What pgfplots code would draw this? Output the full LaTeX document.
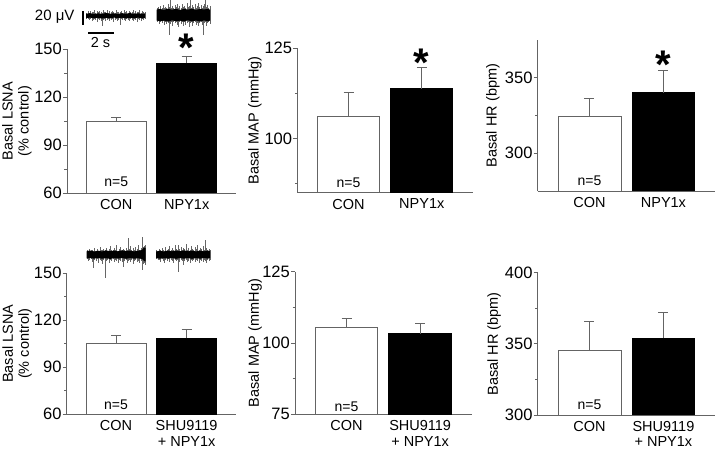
\documentclass[border=0pt]{standalone}
\usepackage{fontspec}
\setmainfont{Liberation Sans}
\usepackage{pgfplots}
\pgfplotsset{compat=1.18}
\definecolor{axgray}{RGB}{100,100,100}
\pgfplotsset{
  /pgf/number format/assume math mode=true,
  panel/.style={
    scale only axis, anchor=south west,
    axis x line=bottom, axis y line=left,
    axis line style={-, draw=axgray, line width=0.8pt},
    xmin=-0.7, xmax=1.7, xtick={0,1},
    xtick style={draw=none},
    ytick style={draw=axgray, line width=0.8pt},
    tick align=outside,
    major tick length=4pt, minor tick length=2.5pt,
    ybar, bar width=0.85, bar shift=0pt,
    clip mode=individual,
    tick label style={font=\fontsize{16.5}{16.5}\selectfont, text=black},
    yticklabel style={inner sep=1pt},
    xticklabel style={align=center, inner sep=2pt, font=\fontsize{14.5}{15.5}\selectfont},
    ylabel style={font=\fontsize{14.5}{16}\selectfont, align=center, anchor=center},
    scaled y ticks=false,
  },
  conbar/.style={fill=white, draw=axgray, line width=0.8pt,
    error bars/.cd, y dir=plus, y explicit, error mark=|,
    error bar style={draw=axgray, line width=0.8pt},
    error mark options={draw=axgray, line width=0.8pt, mark size=5pt}},
  drugbar/.style={fill=black, draw=black, line width=0.8pt,
    error bars/.cd, y dir=plus, y explicit, error mark=|,
    error bar style={draw=axgray, line width=0.8pt},
    error mark options={draw=axgray, line width=0.8pt, mark size=5pt}},
  spikes/.style={draw=none, mark=none, forget plot,
    error bars/.cd, y dir=both, y explicit, error mark=none,
    error bar style={draw=black!60, line width=0.4pt}},
}
\tikzset{
  nlab/.style={font=\fontsize{14}{14}\selectfont, inner sep=0pt},
  star/.style={font=\fontsize{40}{40}\selectfont\bfseries, anchor=base, yshift=-19.5pt, inner sep=0pt},
}
\begin{document}
\begin{tikzpicture}
\useasboundingbox (0,0) rectangle (716pt,450pt);

% ---------- traces and scale bars ----------
\begin{axis}[at={(0pt,0pt)}, anchor=south west, scale only axis, width=716pt, height=450pt,
  xmin=0, xmax=716, ymin=0, ymax=450, y dir=reverse, hide axis, clip=false]
% trace 1
\addplot[spikes] table[x=x,y=c,y error plus=p,y error minus=m] {
x c m p
86.5 15.7 3 3.5
87.8 15.7 4.5 3
89.1 15.7 3 4
90.4 15.7 5 3.5
91.7 15.7 3.5 5
93 15.7 4 4
94.3 15.7 6 3
95.6 15.7 3 4.5
96.9 15.7 4.5 6
98.2 15.7 3.5 3.5
99.5 15.7 5 4
100.8 15.7 4 5
101.7 15.7 3 10
103 15.7 5.5 4
104.3 15.7 3.5 3.5
105.6 15.7 4 5.5
106.9 15.7 6 4
108.2 15.7 3 3
109.5 15.7 4.5 5
110.8 15.7 3.5 4
112.1 15.7 5 3.5
113.4 15.7 4 6
114.7 15.7 3 4
116 15.7 5.5 3
117.3 15.7 4 5
118.6 15.7 3.5 4
120 15.7 4 9.5
121.3 15.7 5 3.5
122.6 15.7 3 4.5
123.9 15.7 6 4
125.2 15.7 3.5 5
126.5 15.7 4.5 3
127.8 15.7 3 4
129.1 15.7 5 5.5
130.4 15.7 4 3.5
131.7 15.7 3.5 4
133 15.7 5.5 5
134.3 15.7 3 3
135.6 15.7 4.5 4.5
136.9 15.7 4 6
138.2 15.7 3.5 3.5
139.5 15.7 6 4
140.8 15.7 3 5
142.1 15.7 4.5 3.5
143.4 15.7 4 4
144.7 15.7 3.5 3
};
\addplot[fill=black, draw=none, forget plot] coordinates {(86,13.8)(90,13.2)(94,14)(98,13.4)(102,13.9)(106,13)(110,13.8)(114,13.3)(118,14)(122,13.2)(126,13.7)(130,13.1)(134,13.9)(138,13.3)(142,13.8)(145,13.4)
(145,18)(142,18.4)(138,17.6)(134,18.3)(130,17.8)(126,18.5)(122,17.7)(118,18.2)(114,17.6)(110,18.4)(106,17.8)(102,18.6)(98,17.7)(94,18.3)(90,17.6)(86,18.1)} -- cycle;
% trace 2
\addplot[spikes] table[x=x,y=c,y error plus=p,y error minus=m] {
x c m p
157 15 6.5 7
158.2 15 8 6.5
159.4 15 6 9
160.6 15 9 7
161.8 15 7 8
163 15 10 6.5
164.2 15 6.5 10
165.4 15 8 7
166.6 15 7 9
167.8 15 11 8
169.3 15 8 20
170 15 15 9
171.2 15 7 7.5
172.4 15 9 11
173.6 15 6.5 7
174.8 15 10 8.5
176 15 7.5 7
177.2 15 11 10
178.4 15 7 12
179.6 15 9 7.5
180.8 15 6.5 9
182 15 10.5 7
183.2 15 7.5 11
184.4 15 9 7.5
185.6 15 7 10
186.8 15 11.5 8
188 15 7.5 7
189.2 15 9 12
190 15 15 8.5
191.2 15 7 7.5
192.4 15 10 11
193.6 15 7.5 8
194.8 15 11 7
196 15 7 10
197.2 15 9 8
198.4 15 12 11
199.6 15 7.5 8.5
200.8 15 10 7
202 15 7 10
203.3 15 9 20
204.2 15 11 8.5
205 15 15 7.5
206.2 15 8 11
207.4 15 10 8.5
208.6 15 7 7.5
209.8 15 9 9.5
};
\addplot[fill=black, draw=none, forget plot] coordinates {(156.7,9.6)(160,8.9)(164,9.9)(168,8.7)(172,9.7)(176,8.8)(180,10)(184,8.9)(188,9.6)(192,8.7)(196,9.8)(200,9)(204,9.5)(208,8.9)(210,9.7)
(210,20.6)(208,21.3)(204,20.4)(200,21.6)(196,20.5)(192,21.4)(188,20.3)(184,21.5)(180,20.7)(176,21.2)(172,20.4)(168,21.7)(164,20.6)(160,21.3)(156.7,20.5)} -- cycle;
% trace 3
\addplot[spikes] table[x=x,y=c,y error plus=p,y error minus=m] {
x c m p
87 254.5 5 4
88.3 254.5 4 6
89.6 254.5 6 5
90.9 254.5 4.5 4
92.2 254.5 5 7
93 254.5 4 13.5
94.5 254.5 7 5
95.8 254.5 4 6
97.1 254.5 5.5 4.5
98.4 254.5 4 8
99.7 254.5 8 5
101 254.5 5 6
102.3 254.5 4.5 9
103.6 254.5 6 5
105 254.5 5 23.5
106.2 254.5 7 6
107.5 254.5 4 5
108.8 254.5 6 8
110.1 254.5 9 5
111.4 254.5 5 6
112.7 254.5 4.5 4.5
114 254.5 7 7
115.3 254.5 5 5
116.6 254.5 10 6
117.9 254.5 4 8
119.2 254.5 6 5
120.5 254.5 8 6
121.8 254.5 5 7
123 254.5 6 12.5
124.4 254.5 4.5 6
125.7 254.5 7 5
127 254.5 5 8
127.7 254.5 16.5 6
129 254.5 6 5
130.3 254.5 9 7
131.6 254.5 5 5.5
132.9 254.5 7 9
134.2 254.5 4.5 6
135.5 254.5 8 5
136.8 254.5 6 7
138.1 254.5 10 6
139.4 254.5 5 8
140.7 254.5 7 6
141.7 254.5 17.5 15
142.8 254.5 8 9
143.8 254.5 9 8
144.8 254.5 10 9
145.5 254.5 9 10
};
\addplot[fill=black, draw=none, forget plot] coordinates {(86.7,251.3)(90,250.5)(94,251.5)(98,250.7)(102,251.4)(106,250.4)(110,251.2)(114,250.6)(118,251.3)(122,250.3)(126,251.1)(130,250.5)(134,251.4)(138,250.7)(142,250)(144,247.5)(145.7,248)
(145.7,261.5)(144,261)(142,259)(138,258.3)(134,258.7)(130,258.1)(126,258.8)(122,258)(118,258.6)(114,258.1)(110,258.9)(106,258.2)(102,258.7)(98,258)(94,258.6)(90,258.1)(86.7,258.4)} -- cycle;
% trace 4
\addplot[spikes] table[x=x,y=c,y error plus=p,y error minus=m] {
x c m p
156.5 254.5 5 4
157.8 254.5 4 5.5
159.1 254.5 6 5
160.4 254.5 4.5 7
161.7 254.5 7 4.5
163 254.5 5 6
164.3 254.5 4 8
165.6 254.5 8 5
166.9 254.5 5 6
168.2 254.5 6 4.5
169.5 254.5 9 7
170.8 254.5 5 5
172.1 254.5 7 6
173.4 254.5 4.5 8
174.7 254.5 10 5
176 254.5 6 6.5
177.3 254.5 5 5
178.3 254.5 9.5 17
179.6 254.5 6 7
180.9 254.5 8 5
182.2 254.5 5 6
183 254.5 7 10.5
184.5 254.5 6 6
185.8 254.5 11 5
187.1 254.5 5 7
188.4 254.5 7 6
189.7 254.5 4.5 8
191 254.5 9 5
192.3 254.5 6 6.5
193.6 254.5 5 5
194.9 254.5 8 7
196.2 254.5 6 5
197.5 254.5 10 6
198.8 254.5 5 8
200.1 254.5 7 5
201.4 254.5 6 6
202.7 254.5 9 7
204 254.5 5 5
205 254.5 14.5 6
206.3 254.5 7 8
207.6 254.5 5 5
208.9 254.5 6 6
209.8 254.5 5 5
};
\addplot[fill=black, draw=none, forget plot] coordinates {(156,251.5)(160,250.7)(164,251.5)(168,250.6)(172,251.3)(176,250.5)(180,251.2)(184,250.4)(188,251.3)(192,250.6)(196,251.4)(200,250.7)(204,251.3)(208,250.6)(210,251.3)
(210,258)(208,258.6)(204,257.9)(200,258.7)(196,258.1)(192,258.8)(188,258)(184,258.7)(180,258.1)(176,258.8)(172,258)(168,258.6)(164,258.2)(160,258.7)(156,258.1)} -- cycle;
% scale bars
\addplot[black, line width=2pt, forget plot] coordinates {(83,11)(83,25)};
\addplot[black, line width=2pt, forget plot] coordinates {(88.3,33.3)(114,33.3)};
\node[anchor=east, font=\fontsize{15}{15}\selectfont] at (axis cs:78,17) {20 μV};
\node[font=\fontsize{14.5}{15}\selectfont] at (axis cs:100.5,43) {2 s};
\end{axis}

% ---------- top row ----------
\begin{axis}[panel, at={(67pt,257pt)}, width=169pt, height=144pt,
  ymin=60, ymax=150, ytick={60,90,120,150}, minor ytick={75,105,135},
  xticklabels={CON,NPY1x},
  ylabel={Basal LSNA\\(\% control)}, ylabel style={at={(axis description cs:-0.296,0.5)}}]
\addplot[conbar] coordinates {(0,105) +- (0,2.3)};
\addplot[drugbar] coordinates {(1,141) +- (0,4.2)};
\node[nlab] at (axis cs:0,67) {n=5};
\node[star] at (axis cs:1,154.4) {*};
\end{axis}

\begin{axis}[panel, at={(297.3pt,257.3pt)}, width=175.7pt, height=144.4pt,
  ymin=85, ymax=125, ytick={100,125}, minor ytick={87.5,112.5},
  xticklabels={CON,NPY1x},
  ylabel={Basal MAP (mmHg)}, ylabel style={at={(axis description cs:-0.241,0.5)}}]
\addplot[conbar] coordinates {(0,106) +- (0,6.9)};
\addplot[drugbar] coordinates {(1,113.8) +- (0,6.0)};
\node[nlab] at (axis cs:0,87.8) {n=5};
\node[star] at (axis cs:1,122.7) {*};
\end{axis}

\begin{axis}[panel, at={(537.7pt,259pt)}, width=177.5pt, height=151pt,
  ymin=275, ymax=375, ytick={300,350}, minor ytick={325},
  xticklabels={CON,NPY1x},
  ylabel={Basal HR (bpm)}, ylabel style={at={(axis description cs:-0.253,0.5)}}]
\addplot[conbar] coordinates {(0,324.4) +- (0,11.8)};
\addplot[drugbar] coordinates {(1,340) +- (0,15)};
\node[nlab] at (axis cs:0,281.6) {n=5};
\node[star] at (axis cs:1,362.2) {*};
\end{axis}

% ---------- bottom row ----------
\begin{axis}[panel, at={(66.7pt,35.7pt)}, width=169.3pt, height=141pt,
  ymin=60, ymax=150, ytick={60,90,120,150}, minor ytick={75,105,135},
  xticklabels={CON,{SHU9119\\+ NPY1x}},
  ylabel={Basal LSNA\\(\% control)}, ylabel style={at={(axis description cs:-0.293,0.5)}}]
\addplot[conbar] coordinates {(0,105.3) +- (0,4.9)};
\addplot[drugbar] coordinates {(1,108.5) +- (0,5.9)};
\node[nlab] at (axis cs:0,66.4) {n=5};
\end{axis}

\begin{axis}[panel, at={(295pt,35.7pt)}, width=176.7pt, height=142.6pt,
  ymin=75, ymax=125, ytick={75,100,125}, minor ytick={87.5,112.5},
  xticklabels={CON,{SHU9119\\+ NPY1x}},
  ylabel={Basal MAP (mmHg)}, ylabel style={at={(axis description cs:-0.226,0.5)}}]
\addplot[conbar] coordinates {(0,105.5) +- (0,3.1)};
\addplot[drugbar] coordinates {(1,103.2) +- (0,3.6)};
\node[nlab] at (axis cs:0,77.7) {n=5};
\end{axis}

\begin{axis}[panel, at={(537.7pt,35pt)}, width=177.5pt, height=142.3pt,
  ymin=300, ymax=400, ytick={300,350,400}, minor ytick={325,375},
  xticklabels={CON,{SHU9119\\+ NPY1x}},
  ylabel={Basal HR (bpm)}, ylabel style={at={(axis description cs:-0.245,0.5)}}]
\addplot[conbar] coordinates {(0,345.3) +- (0,20.6)};
\addplot[drugbar] coordinates {(1,354) +- (0,18.3)};
\node[nlab] at (axis cs:0,307) {n=5};
\end{axis}
\end{tikzpicture}
\end{document}
